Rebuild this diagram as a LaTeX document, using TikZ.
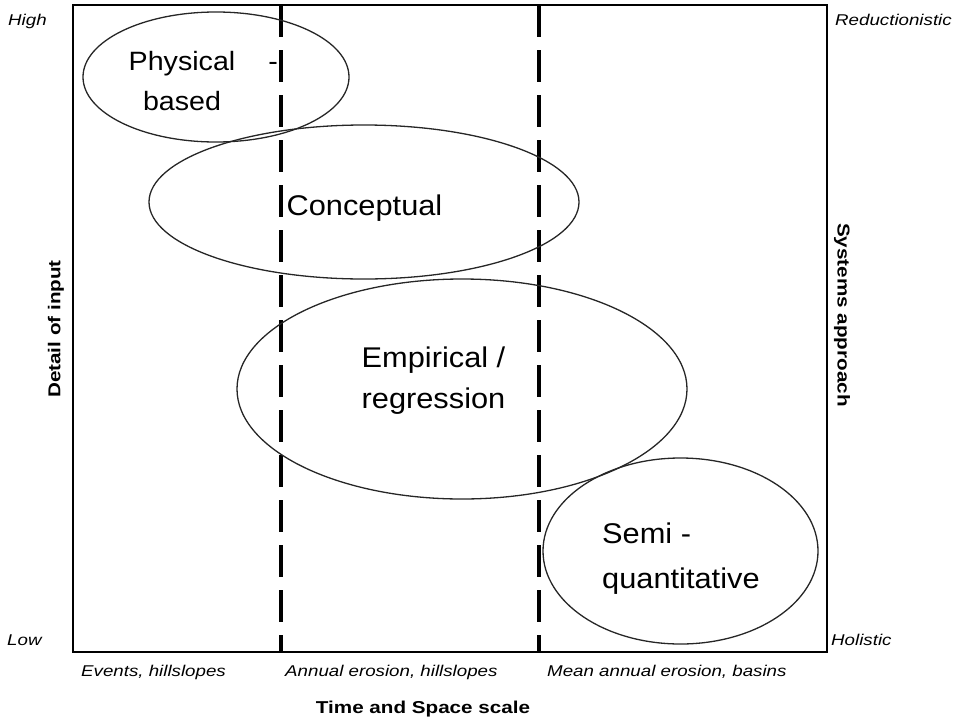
\documentclass[tikz,border=0pt]{standalone}
\usepackage{fontspec}
\setmainfont{Liberation Sans}
\newfontfamily\modelfont[FakeStretch=1.08]{Liberation Sans}
\newfontfamily\axisfont[FakeStretch=1.2]{Liberation Sans}
\usetikzlibrary{positioning}

\begin{document}
\begin{tikzpicture}[
  x=1pt, y=-1pt,
  frame/.style={draw=black, line width=1.6pt},
  divider/.style={draw=black, line width=3.2pt, dash pattern=on 32pt off 13pt},
  zone/.style={draw=black!85, line width=1.3pt},
  model/.style={font=\modelfont\fontsize{28.5}{41}\selectfont, align=center, inner sep=0pt, anchor=base},
  tick/.style={font=\axisfont\itshape\fontsize{15.6}{18}\selectfont, inner sep=0pt, anchor=base west},
  axis/.style={font=\axisfont\bfseries\fontsize{17.2}{20}\selectfont, inner sep=0pt}
]
\useasboundingbox (0,0) rectangle (953,718);

% frame and scale dividers
\draw[frame] (73,5) rectangle (827,652);
\draw[divider] (281,5) -- (281,652);
\draw[divider] (539,5) -- (539,652);

% model zones
\draw[zone] (216,77) ellipse [x radius=133, y radius=65];
\draw[zone] (364,202) ellipse [x radius=215, y radius=77];
\draw[zone] (462,389) ellipse [x radius=225, y radius=110];
\draw[zone] (680.5,551) ellipse [x radius=137.5, y radius=93];

% model labels (base = last line)
\node[model, font=\modelfont\fontsize{26.5}{40}\selectfont] (physical) at (182,110) {Physical\rlap{\hspace{33pt}-}\\based};
\node[model] (conceptual) at (364.5,215) {Conceptual};
\node[model] (empirical) at (433.5,408) {Empirical /\\regression};
\node[model, anchor=base west, align=left, font=\modelfont\fontsize{28.5}{45}\selectfont] (semi) at (602,588) {Semi -\\quantitative};

% axis ends
\node[tick] (high) at (8,25) {High};
\node[tick] (low) at (7,645) {Low};
\node[tick] (reduct) at (835,25) {Reductionistic};
\node[tick] (holistic) at (831,645) {Holistic};

% scale classes
\node[tick] (events) at (81,676) {Events, hillslopes};
\node[tick] (annual) at (285,676) {Annual erosion, hillslopes};
\node[tick] (mean) at (547,676) {Mean annual erosion, basins};

% axis titles
\node[axis, anchor=base] (scale) at (423,713) {Time and Space scale};
\node[axis, rotate=90] (detail) at (56,329) {Detail of input};
\node[axis, rotate=-90] (systems) at (842,315) {Systems approach};

\end{tikzpicture}
\end{document}
